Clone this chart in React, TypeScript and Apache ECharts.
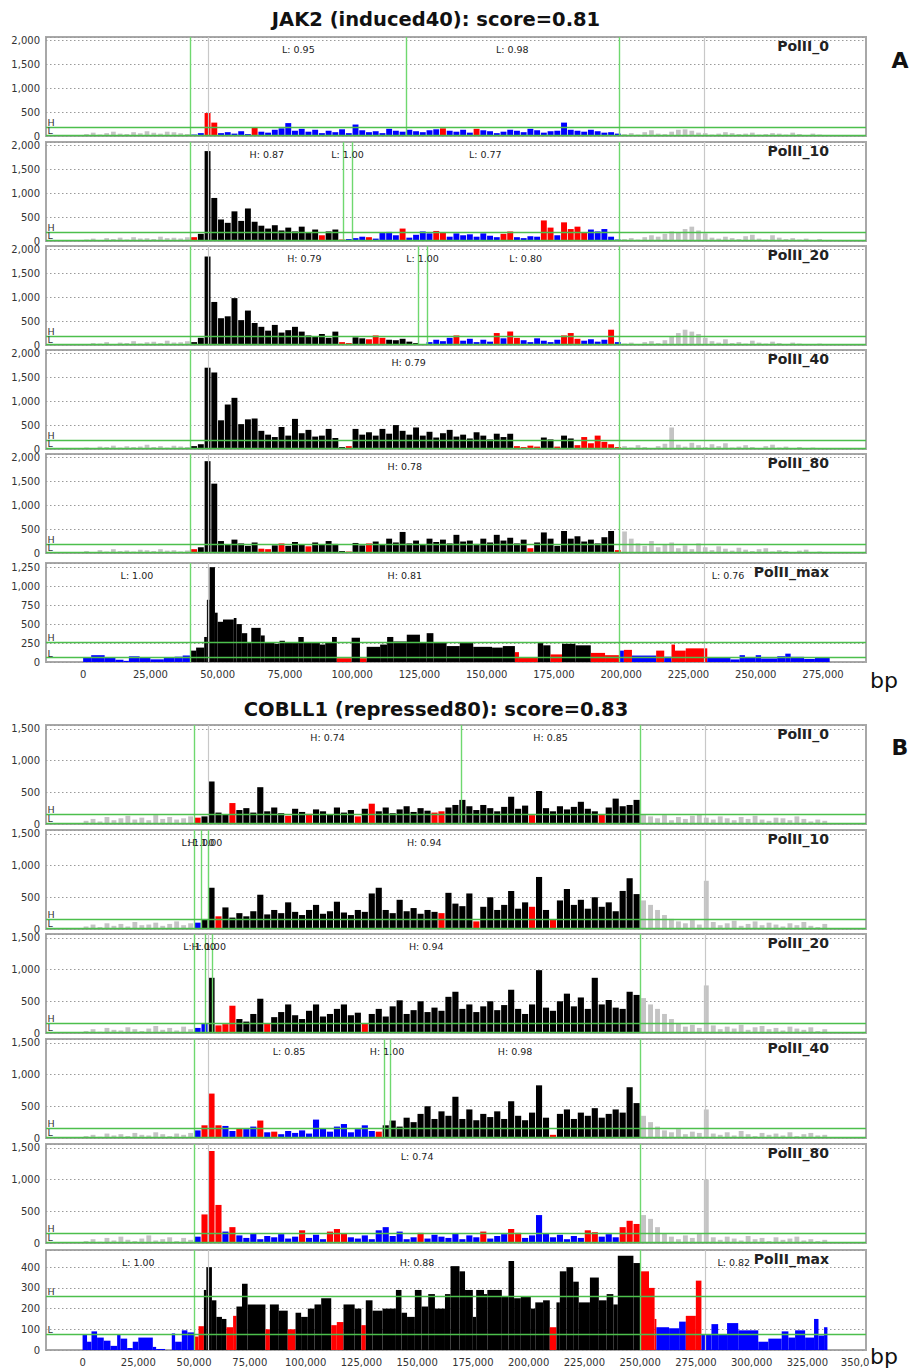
import React, { useEffect, useRef } from 'react';
import * as echarts from 'echarts';

const FONT = 'DejaVu Sans';
const COLORS: Record<string, string> = { k: '#000000', r: '#ff0000', b: '#0000ff', g: '#c4c4c4' };
const GREEN_V = '#6fd86f';
const GREEN_H = '#4cbf4c';
const GRAY_V = '#c8c8c8';

// ---------- chart A (JAK2) ----------
const A_START = -12500;
const A_BIN = 2500;
const A_MIN = -13800;
const A_MAX = 291000;
const A_GENE = [40000, 199200];
const A_GRAY_LINES = [46500, 231000];
const A_TICKS = [0, 25000, 50000, 75000, 100000, 125000, 150000, 175000, 200000, 225000, 250000, 275000];

const a1 = [0,0,0,0,0, 40,70,30,60,90,50,40,80,60,100,70,50,90,80,60,40,
  30,60,480,280,60,80,50,100,40,190,
  90,70,130,160,270,110,150,90,130,60,
  110,80,140,60,240,120,80,100,60,150,
  110,90,130,100,80,120,140,160,110,90,
  130,70,150,120,100,60,90,130,110,80,
  150,120,70,100,110,280,130,110,90,130,
  100,70,80,50,
  40,60,30,80,120,50,40,90,130,140, 110,70,60,30,50,80,60,40,50,70, 30,40,60,50,30,70,40,20,50,30, 0,0,0,0,0,0];
const a1Base = [[40000, 200000, 'b']];
const a1Red = [23, 24, 30, 58, 63];

const a2 = [0,0,0,0,0, 30,50,20,60,40,70,30,80,50,60,40,90,60,70,50,80,
  80,150,1880,900,450,380,620,420,680,400,
  320,260,330,220,280,200,300,180,240,120,
  200,240,30,40,60,90,80,50,170,190,
  120,260,70,130,200,160,210,180,90,160,
  120,140,90,160,110,80,150,200,80,60,
  100,90,430,280,120,390,250,300,180,240,
  200,250,90,30,
  40,60,30,80,120,90,150,200,180,250, 300,220,160,70,50,90,60,40,100,130, 50,30,120,70,40,60,30,50,20,40, 0,0,0,0,0,0];
const a2Base = [[40000, 96600, 'k'], [96600, 200000, 'b']];
const a2Red = [21, 40, 43, 47, 52, 57, 58, 67, 68, 73, 74, 76, 77, 78, 79];

const a3 = [0,0,0,0,0, 20,40,30,60,20,50,40,80,30,60,70,40,90,50,60,80,
  60,150,1850,900,560,600,980,520,720,460,
  380,300,420,260,310,380,280,200,170,230,
  150,280,60,40,160,140,120,200,150,110,
  100,130,70,40,20,60,110,80,150,200,
  90,130,60,110,70,250,140,280,150,100,
  60,140,90,60,110,200,250,130,90,120,
  70,110,320,60,
  30,50,20,60,80,40,100,180,250,320, 280,230,150,80,50,120,40,60,30,90, 50,30,70,40,20,50,30,20,0,30, 0,0,0,0,0,0];
const a3Base = [[40000, 124500, 'k'], [124500, 200000, 'b']];
const a3Red = [43, 44, 47, 48, 49, 60, 66, 68, 69, 76, 77, 78, 83];

const a4 = [0,0,0,0,0, 30,20,50,40,70,30,60,40,50,90,40,60,30,70,50,40,
  60,100,1700,1600,600,930,1070,520,620,640,
  380,300,250,460,280,630,330,400,260,280,
  420,230,40,60,420,300,350,280,420,320,
  500,380,300,450,280,360,240,330,400,260,
  300,220,350,280,200,320,250,320,60,40,
  70,50,240,200,50,280,220,80,250,120,
  280,150,100,40,
  60,30,80,40,20,60,110,450,90,50, 130,80,40,100,60,120,30,50,80,40, 20,60,90,30,50,20,40,0,30,0, 0,0,0,0,0,0];
const a4Base = [[40000, 200000, 'k']];
const a4Red = [44, 69, 70, 71, 72, 75, 78, 79, 80, 81, 82, 83, 84];

const a5 = [0,0,0,0,0, 40,20,60,30,80,40,50,30,70,60,40,80,50,60,30,50,
  80,120,1920,1450,250,180,280,200,150,220,
  90,80,160,200,150,230,180,140,220,170,
  250,190,40,30,210,160,200,240,180,300,
  220,440,200,260,180,300,230,280,200,380,
  240,260,190,300,220,380,260,320,200,280,
  100,220,430,300,150,460,300,350,240,280,
  200,330,460,60,
  450,300,200,150,250,120,180,220,100,160, 80,200,120,60,140,90,50,110,70,40, 80,100,30,60,40,20,50,70,0,30, 0,0,0,0,0,0];
const a5Base = [[40000, 200000, 'k']];
const a5Red = [21, 31, 32, 34, 38, 44, 47, 71, 84];

// PolII_max steps: [start, end, value, colour code]
const aMax = [
  [0,3000,60,'b'],[3000,8000,90,'b'],[8000,12000,65,'b'],[12000,15000,30,'b'],[15000,17000,15,'b'],
  [17000,21000,75,'b'],[21000,25000,55,'b'],[25000,30000,35,'b'],[30000,34000,55,'b'],[34000,37000,70,'b'],[37000,40000,85,'b'],
  [40000,42000,150,'k'],[42000,45000,190,'k'],[45000,46000,330,'k'],[46000,47000,820,'k'],[47000,49000,1250,'k'],
  [49000,50000,650,'k'],[50000,52000,530,'k'],[52000,56000,560,'k'],[56000,57000,580,'k'],[57000,59000,500,'k'],
  [59000,61000,380,'k'],[61000,62500,260,'k'],[62500,66000,450,'k'],[66000,67500,350,'k'],[67500,71000,250,'k'],
  [71000,73000,240,'k'],[73000,75000,280,'k'],[75000,78000,260,'k'],[78000,80000,250,'k'],[80000,82000,330,'k'],
  [82000,85000,260,'k'],[85000,88000,250,'k'],[88000,90000,230,'k'],[90000,92500,260,'k'],[92500,94300,330,'k'],
  [94300,99800,50,'r'],[99800,102900,320,'k'],[102900,105400,50,'r'],[105400,110400,200,'k'],[110400,113000,230,'k'],
  [113000,115300,330,'k'],[115300,120300,270,'k'],[120300,125200,360,'k'],[125200,127700,260,'k'],[127700,130200,380,'k'],
  [130200,135100,250,'k'],[135100,140000,210,'k'],[140000,145000,250,'k'],[145000,152000,200,'k'],[152000,156000,190,'k'],
  [156000,160500,210,'k'],[160500,162000,130,'r'],[162000,169000,60,'r'],[169000,171000,250,'k'],[171000,173700,220,'k'],
  [173700,178000,100,'r'],[178000,183000,240,'k'],[183000,188700,220,'k'],[188700,194000,120,'r'],[194000,199200,90,'r'],
  [199200,201000,150,'b'],[201000,204000,160,'r'],[204000,213000,85,'b'],[213000,216000,150,'r'],[216000,218700,70,'b'],
  [218700,220000,230,'r'],[220000,224000,150,'r'],[224000,232000,180,'r'],[232000,240600,60,'b'],[240600,244000,34,'b'],
  [244000,246000,90,'b'],[246000,250000,55,'b'],[250000,252000,90,'b'],[252000,258000,47,'b'],[258000,261000,76,'b'],
  [261000,263000,110,'b'],[263000,268000,68,'b'],[268000,272000,40,'b'],[272000,277500,55,'b'],
];

// ---------- chart B (COBLL1) ----------
const B_START = -15625;
const B_BIN = 3125;
const B_MIN = -16400;
const B_MAX = 351300;
const B_GENE = [50000, 250000];
const B_GRAY_LINES = [56300, 279000];
const B_TICKS = [0, 25000, 50000, 75000, 100000, 125000, 150000, 175000, 200000, 225000, 250000, 275000, 300000, 325000, 350000];

const b1 = [0,0,0,0,0, 50,80,40,110,60,90,130,70,100,60,140,80,110,70,90,120,
  100,120,670,180,150,330,220,250,180,580,
  200,260,170,130,240,190,160,230,200,150,
  260,180,220,120,240,320,200,260,170,230,
  280,190,250,210,180,200,260,300,380,280,
  220,300,250,200,270,430,240,290,140,520,
  250,200,280,230,270,350,240,200,150,260,
  400,280,300,380,
  150,120,90,140,60,110,80,130,150,100, 70,120,90,60,110,80,130,70,50,100, 90,60,120,80,40,70,50,0,0,0, 0,0];
const b1Base = [[50000, 251000, 'k']];
const b1Red = [21, 26, 34, 37, 44, 46, 55, 56, 69, 79];

const b2 = [0,0,0,0,0, 40,70,30,90,50,80,40,110,60,70,100,50,80,120,60,90,
  100,150,650,200,340,180,250,200,280,540,
  230,300,250,420,270,220,300,380,240,280,
  430,260,220,300,270,560,650,300,250,460,
  280,330,240,300,270,250,570,400,360,560,
  120,350,500,300,380,600,320,420,350,820,
  300,150,450,630,380,460,320,500,350,420,
  280,600,800,550,
  450,380,300,220,160,120,90,140,70,760, 110,60,90,130,50,80,120,60,100,70, 40,90,60,110,50,30,80,0,0,0, 0,0];
const b2Base = [[50000, 53400, 'b'], [53400, 251000, 'k']];
const b2Red = [24, 56, 61, 69, 72];

const b3 = [0,0,0,0,0, 30,60,20,80,50,40,90,60,30,70,110,50,80,40,100,60,
  80,150,870,120,140,430,220,180,300,540,
  150,250,330,450,280,220,350,450,260,300,
  380,450,280,320,150,300,380,260,420,515,
  300,360,500,330,400,350,570,650,380,450,
  330,420,500,360,440,680,380,300,450,990,
  400,350,500,620,420,560,380,870,450,520,
  400,380,650,600,
  550,450,380,300,220,150,100,130,80,750, 120,60,100,70,130,50,90,110,60,80, 40,100,70,50,90,30,60,0,0,0, 0,0];
const b3Base = [[50000, 54900, 'b'], [54900, 251000, 'k']];
const b3Red = [24, 25, 26, 31, 45];

const b4 = [0,0,0,0,0, 30,50,20,70,40,60,30,80,50,40,90,60,30,70,50,80,
  120,200,700,200,190,110,150,140,180,275,
  90,100,60,110,80,120,70,290,150,100,
  180,220,90,140,200,110,100,200,275,180,
  320,250,380,500,300,420,350,650,300,450,
  280,380,330,420,300,580,350,280,400,830,
  320,50,380,450,300,400,350,470,320,380,
  450,400,800,550,
  350,250,180,120,90,140,60,100,80,450, 70,50,90,40,110,60,30,80,50,70, 40,90,30,60,80,40,50,0,0,0, 0,0];
const b4Base = [[50000, 135200, 'b'], [135200, 251000, 'k']];
const b4Red = [22, 23, 24, 27, 30, 32, 47, 72];

const b5 = [0,0,0,0,0, 30,60,20,80,40,100,50,30,70,120,40,60,90,30,80,50,
  100,450,1450,600,180,250,120,80,150,60,
  110,90,140,70,100,200,80,130,60,180,
  220,150,90,70,120,60,200,250,110,180,
  60,90,160,70,130,100,80,150,60,120,
  90,180,70,110,140,220,160,80,120,440,
  150,90,130,60,110,80,200,170,100,140,
  90,250,350,300,
  440,380,250,150,100,60,120,80,140,1000, 90,50,100,70,40,110,60,80,30,90, 50,70,100,40,60,30,50,0,0,0, 0,0];
const b5Base = [[50000, 251000, 'b']];
const b5Red = [22, 23, 24, 26, 36, 40, 41, 42, 53, 62, 66, 67, 77, 78, 82, 83, 84];

const bMax = [
  [0,2000,75,'b'],[2000,4000,40,'b'],[4000,6500,90,'b'],[6500,9500,60,'b'],[9500,12500,45,'b'],[12500,15500,20,'b'],
  [15500,17000,75,'b'],[17000,20000,55,'b'],[20000,22500,10,'b'],[22500,25000,40,'b'],[25000,31500,60,'b'],[31500,33000,15,'b'],
  [33000,37000,5,'b'],[40000,41500,80,'b'],[41500,44500,40,'b'],[44500,47000,95,'b'],[47000,50000,85,'b'],
  [50000,52000,65,'r'],[52000,54400,115,'r'],[54400,55500,290,'k'],[55500,58000,400,'k'],[58000,60000,240,'k'],
  [60000,62500,160,'k'],[62500,64500,150,'k'],[64500,67500,110,'r'],[67500,69000,165,'r'],[69000,71500,210,'k'],
  [71500,74000,320,'k'],[74000,82000,220,'k'],[82000,84000,100,'r'],[84000,88000,220,'k'],[88000,92000,190,'k'],
  [92000,95500,100,'r'],[95500,98000,180,'k'],[98000,101000,160,'k'],[101000,104000,200,'k'],[104000,107000,220,'k'],
  [107000,111500,250,'k'],[111500,114000,120,'r'],[114000,117000,135,'r'],[117000,122000,220,'k'],[122000,125000,200,'k'],
  [125000,127000,120,'r'],[127000,130000,240,'k'],[130000,134500,190,'k'],[134500,140500,200,'k'],[140500,143000,290,'k'],
  [143000,145500,180,'k'],[145500,149000,160,'k'],[149000,152000,290,'k'],[152000,155000,210,'k'],[155000,158000,270,'k'],
  [158000,162500,200,'k'],[162500,165000,270,'k'],[165000,169000,405,'k'],[169000,171500,380,'k'],[171500,175000,290,'k'],
  [175000,176500,160,'k'],[176500,180000,290,'k'],[180000,181500,270,'k'],[181500,188000,290,'k'],[188000,191000,260,'k'],
  [191000,193500,430,'k'],[193500,196500,250,'k'],[196500,201000,260,'k'],[201000,203000,200,'k'],[203000,206500,230,'k'],
  [206500,209500,240,'k'],[209500,212500,110,'r'],[212500,214000,230,'k'],[214000,217000,380,'k'],[217000,220000,400,'k'],
  [220000,222500,330,'k'],[222500,227500,230,'k'],[227500,231500,350,'k'],[231500,235000,240,'k'],[235000,238000,270,'k'],
  [238000,240000,220,'k'],[240000,247000,455,'k'],[247000,250000,420,'k'],[250000,254000,380,'r'],[254000,256500,300,'r'],
  [256500,257300,150,'r'],[257300,263000,110,'b'],[263000,267500,105,'b'],[267500,270500,137,'b'],[270500,275000,165,'r'],
  [275000,277500,335,'r'],[277500,282000,75,'b'],[282000,285000,125,'b'],[285000,289000,75,'b'],[289000,294000,130,'b'],
  [294000,303000,95,'b'],[303000,307500,40,'b'],[307500,313500,55,'b'],[313500,316500,90,'b'],[316500,319500,60,'b'],
  [319500,324000,95,'b'],[324000,328000,60,'b'],[328000,330000,150,'b'],[330000,332500,70,'b'],[332500,334000,110,'b'],
];

// ---------- panel table ----------
const A_TOPS = [37, 142, 246, 350, 454, 563];
const B_TOPS = [725, 830, 934, 1039, 1144, 1250];

const panelsA = [
  { name: 'PolII_0', vals: a1, base: a1Base, red: a1Red, vlines: [40000, 120000, 199200], labels: [[80000, 'L: 0.95'], [159500, 'L: 0.98']], H: 185, L: 18 },
  { name: 'PolII_10', vals: a2, base: a2Base, red: a2Red, vlines: [40000, 96600, 100000, 199200], labels: [[68300, 'H: 0.87'], [98300, 'L: 1.00'], [149500, 'L: 0.77']], H: 180, L: 18 },
  { name: 'PolII_20', vals: a3, base: a3Base, red: a3Red, vlines: [40000, 124500, 127800, 199200], labels: [[82250, 'H: 0.79'], [126150, 'L: 1.00'], [164500, 'L: 0.80']], H: 180, L: 18 },
  { name: 'PolII_40', vals: a4, base: a4Base, red: a4Red, vlines: [40000, 199200], labels: [[121000, 'H: 0.79']], H: 180, L: 18 },
  { name: 'PolII_80', vals: a5, base: a5Base, red: a5Red, vlines: [40000, 199200], labels: [[119600, 'H: 0.78']], H: 180, L: 18 },
  { name: 'PolII_max', steps: aMax, vlines: [40000, 199200], labels: [[20000, 'L: 1.00'], [119600, 'H: 0.81'], [239700, 'L: 0.76']], H: 260, L: 57 },
];
const panelsB = [
  { name: 'PolII_0', vals: b1, base: b1Base, red: b1Red, vlines: [50000, 169700, 250000], labels: [[109850, 'H: 0.74'], [209850, 'H: 0.85']], H: 160, L: 18 },
  { name: 'PolII_10', vals: b2, base: b2Base, red: b2Red, vlines: [50000, 53400, 56400, 250000], labels: [[51700, 'L: 1.00'], [54900, 'H: 1.00'], [153200, 'H: 0.94']], H: 160, L: 18 },
  { name: 'PolII_20', vals: b3, base: b3Base, red: b3Red, vlines: [50000, 54900, 58200, 250000], labels: [[52450, 'L: 1.00'], [56550, 'H: 1.00'], [154100, 'H: 0.94']], H: 160, L: 18 },
  { name: 'PolII_40', vals: b4, base: b4Base, red: b4Red, vlines: [50000, 135200, 137900, 250000], labels: [[92600, 'L: 0.85'], [136550, 'H: 1.00'], [193950, 'H: 0.98']], H: 160, L: 18 },
  { name: 'PolII_80', vals: b5, base: b5Base, red: b5Red, vlines: [50000, 250000], labels: [[150000, 'L: 0.74']], H: 160, L: 18 },
  { name: 'PolII_max', steps: bMax, vlines: [50000, 250000], labels: [[25000, 'L: 1.00'], [150000, 'H: 0.88'], [292000, 'L: 0.82']], H: 260, L: 77 },
];

const fmt = (v: number) => v.toLocaleString('en-US');

function binData(vals: number[], start: number, bin: number, gene: number[], base: any[], red: number[]) {
  return vals.map((v, i) => {
    const x0 = start + i * bin;
    const c = x0 + bin / 2;
    let code = 'g';
    if (c >= gene[0] && c <= gene[1]) {
      code = 'k';
      for (const s of base) if (c >= s[0] && c < s[1]) code = s[2];
      if (red.includes(i)) code = 'r';
    }
    const w = code === 'g' ? 0.7 : 0.88;
    return { value: [x0 + bin * (1 - w) / 2, x0 + bin * (1 + w) / 2, v], itemStyle: { color: COLORS[code] } };
  });
}

function stepData(steps: any[]) {
  return steps.map((s) => ({ value: [s[0], s[1], s[2]], itemStyle: { color: COLORS[s[3]] } }));
}

function rectItem(params: any, api: any) {
  const y = api.value(2);
  if (!y) return { type: 'group', children: [] };
  const a = api.coord([api.value(0), y]);
  const b = api.coord([api.value(1), 0]);
  return {
    type: 'rect',
    shape: { x: a[0], y: a[1], width: Math.max(b[0] - a[0], 0.8), height: b[1] - a[1] },
    style: { fill: api.visual('color') },
  };
}

function textStyle(text: string, size: number, align: string, valign: string, weight = 'normal', fill = '#222') {
  return {
    text,
    font: `${weight} ${size}px "${FONT}"`,
    fill,
    align,
    verticalAlign: valign,
    textAlign: align,
    textVerticalAlign: valign,
  };
}

function buildOption() {
  const grid: any[] = [];
  const xAxis: any[] = [];
  const yAxis: any[] = [];
  const series: any[] = [];
  const graphic: any[] = [];

  const charts = [
    { panels: panelsA, tops: A_TOPS, start: A_START, bin: A_BIN, min: A_MIN, max: A_MAX, gene: A_GENE, gray: A_GRAY_LINES, ticks: A_TICKS, fineMax: 2070, fineInt: 500, maxMax: 1305, maxInt: 250 },
    { panels: panelsB, tops: B_TOPS, start: B_START, bin: B_BIN, min: B_MIN, max: B_MAX, gene: B_GENE, gray: B_GRAY_LINES, ticks: B_TICKS, fineMax: 1560, fineInt: 500, maxMax: 483, maxInt: 100 },
  ];

  let gi = 0;
  charts.forEach((ch, ci) => {
    ch.panels.forEach((p: any, pi: number) => {
      const isMax = !!p.steps;
      const yMax = isMax ? ch.maxMax : ch.fineMax;
      const yInt = isMax ? ch.maxInt : ch.fineInt;
      const top = ch.tops[pi];
      const height = ci === 1 && pi === 5 ? 100 : 99;
      grid.push({ left: 46, width: 820, top, height, show: true, borderColor: '#a8a8a8', borderWidth: 2, backgroundColor: '#fff' });
      const bottom = pi === 5;
      xAxis.push({
        type: 'value', gridIndex: gi, min: ch.min, max: ch.max,
        axisLine: { show: false }, splitLine: { show: false },
        axisTick: { show: false },
        axisLabel: bottom
          ? {
              show: true, customValues: ch.ticks, margin: 7, fontSize: 10, color: '#333', fontFamily: FONT,
              formatter: (v: number) => (v === 350000 ? '{c|350,0}' : fmt(v)),
              rich: { c: { fontSize: 10, color: '#333', fontFamily: FONT, padding: [0, 16, 0, 0] } },
            }
          : { show: false },
      });
      yAxis.push({
        type: 'value', gridIndex: gi, min: 0, max: yMax, interval: yInt,
        axisLine: { show: false }, axisTick: { show: false },
        splitLine: { show: true, lineStyle: { color: '#9a9a9a', type: [1.5, 2.5], width: 1 } },
        axisLabel: {
          margin: 6, fontSize: 10, color: '#333', fontFamily: FONT,
          formatter: (v: number) => (v % yInt === 0 ? fmt(v) : ''),
        },
      });

      const data = isMax ? stepData(p.steps) : binData(p.vals, ch.start, ch.bin, ch.gene, p.base, p.red);
      const lines: any[] = [];
      ch.gray.forEach((x: number) => lines.push({ xAxis: x, lineStyle: { color: GRAY_V, width: 1.2, type: 'solid' } }));
      p.vlines.forEach((x: number) => lines.push({ xAxis: x, lineStyle: { color: GREEN_V, width: 1.4, type: 'solid' } }));
      lines.push({ yAxis: p.H, lineStyle: { color: GREEN_H, width: 1.4, type: 'solid' } });
      lines.push({ yAxis: p.L, lineStyle: { color: GREEN_H, width: 1.4, type: 'solid' } });

      series.push({
        type: 'custom', xAxisIndex: gi, yAxisIndex: gi, clip: true, silent: true,
        renderItem: rectItem, encode: { x: [0, 1], y: 2 }, data,
        markLine: { silent: true, symbol: ['none', 'none'], label: { show: false }, animation: false, data: lines },
        z: 2,
      });

      const labs = p.labels;
      const hl = [[ch.min, p.H, 'H'], [ch.min, p.L, 'L']];
      series.push({
        type: 'custom', xAxisIndex: gi, yAxisIndex: gi, silent: true, clip: false, z: 6,
        data: labs.map((l: any) => [l[0]]),
        encode: { x: 0 },
        renderItem: (params: any, api: any) => {
          const l = labs[params.dataIndex];
          const pt = api.coord([l[0], yMax]);
          return { type: 'text', x: pt[0], y: pt[1] + 12, style: textStyle(l[1], 9.5, 'center', 'middle', 'normal', '#222') };
        },
      });
      series.push({
        type: 'custom', xAxisIndex: gi, yAxisIndex: gi, silent: true, clip: false, z: 6,
        data: hl.map((h) => [h[0], h[1]]),
        encode: { x: 0, y: 1 },
        renderItem: (params: any, api: any) => {
          const h = hl[params.dataIndex];
          const pt = api.coord([h[0], h[1]]);
          return { type: 'text', x: pt[0] + 1.5, y: pt[1] + 0.5, style: textStyle(h[2] as string, 9.5, 'left', 'bottom', 'normal', '#333') };
        },
      });

      graphic.push({ type: 'text', x: 829, y: top + 9, z: 10, style: textStyle(p.name, 14, 'right', 'middle', 'bold', '#222') });
      gi++;
    });
  });

  graphic.push({ type: 'text', x: 436, y: 19, style: textStyle('JAK2 (induced40): score=0.81', 19.5, 'center', 'middle', 'bold', '#111') });
  graphic.push({ type: 'text', x: 436, y: 709, style: textStyle('COBLL1 (repressed80): score=0.83', 19.5, 'center', 'middle', 'bold', '#111') });
  graphic.push({ type: 'text', x: 900, y: 60, style: textStyle('A', 22, 'center', 'middle', 'bold', '#111') });
  graphic.push({ type: 'text', x: 900, y: 747, style: textStyle('B', 22, 'center', 'middle', 'bold', '#111') });
  graphic.push({ type: 'text', x: 884, y: 680, style: textStyle('bp', 22, 'center', 'middle', 'normal', '#111') });
  graphic.push({ type: 'text', x: 884, y: 1356, style: textStyle('bp', 22, 'center', 'middle', 'normal', '#111') });

  return { animation: false, backgroundColor: '#ffffff', grid, xAxis, yAxis, series, graphic };
}

export default function App() {
  const ref = useRef<HTMLDivElement>(null);
  useEffect(() => {
    document.body.style.margin = '0';
    if (!ref.current) return;
    const chart = echarts.init(ref.current, undefined, { renderer: 'svg' });
    chart.setOption(buildOption() as any);
    return () => chart.dispose();
  }, []);
  return <div ref={ref} style={{ width: 912, height: 1370 }} />;
}
